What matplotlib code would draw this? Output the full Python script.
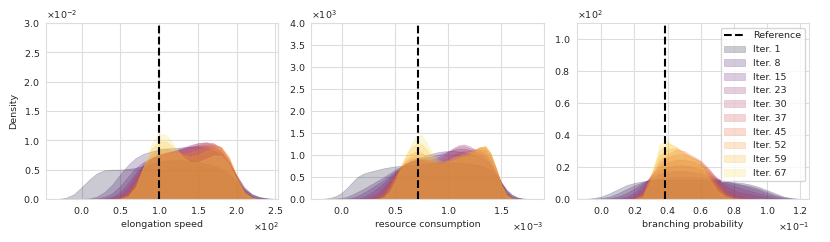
import numpy as np
import matplotlib
matplotlib.use("Agg")
import matplotlib.pyplot as plt
import seaborn as sns
from matplotlib.ticker import ScalarFormatter, MultipleLocator

sns.set_style("whitegrid")
plt.rcParams['font.family'] = ['DejaVu Sans']

FS = 6.8

iterations = [1, 8, 15, 23, 30, 37, 45, 52, 59, 67]
xlabels = ["elongation speed", "resource consumption", "branching probability"]
reference_values = [100.0, 0.719e-3, 0.0387]

# ---------------- panel 1: elongation speed (x in units, density x1e-2)
speed_x = [-30, -20, -10, 0, 10, 20, 30, 40, 50, 60, 70, 80, 90, 100, 110, 120, 130,
           140, 150, 160, 170, 180, 190, 200, 210, 220, 230, 240, 250]
speed_density = [
    [0, 0.02, 0.08, 0.2, 0.33, 0.44, 0.49, 0.5, 0.5, 0.51, 0.53, 0.56, 0.6, 0.63, 0.65, 0.66, 0.66, 0.65, 0.63, 0.6, 0.57, 0.52, 0.43, 0.3, 0.17, 0.08, 0.03, 0.01, 0],
    [0, 0, 0, 0, 0.01, 0.04, 0.12, 0.25, 0.42, 0.58, 0.7, 0.77, 0.81, 0.84, 0.86, 0.87, 0.88, 0.89, 0.89, 0.87, 0.83, 0.75, 0.6, 0.4, 0.2, 0.08, 0.03, 0.01, 0],
    [0, 0, 0, 0, 0, 0.01, 0.04, 0.1, 0.22, 0.38, 0.53, 0.63, 0.7, 0.75, 0.79, 0.83, 0.86, 0.89, 0.91, 0.91, 0.88, 0.8, 0.63, 0.4, 0.18, 0.06, 0.02, 0, 0],
    [0, 0, 0, 0, 0, 0, 0.01, 0.04, 0.12, 0.27, 0.45, 0.6, 0.69, 0.74, 0.78, 0.82, 0.87, 0.92, 0.95, 0.96, 0.92, 0.82, 0.63, 0.38, 0.15, 0.04, 0.01, 0, 0],
    [0, 0, 0, 0, 0, 0, 0, 0.02, 0.07, 0.2, 0.4, 0.58, 0.68, 0.74, 0.78, 0.81, 0.85, 0.9, 0.95, 0.97, 0.95, 0.86, 0.66, 0.38, 0.14, 0.03, 0, 0, 0],
    [0, 0, 0, 0, 0, 0, 0, 0.01, 0.04, 0.14, 0.35, 0.56, 0.68, 0.75, 0.78, 0.8, 0.83, 0.87, 0.92, 0.95, 0.95, 0.88, 0.68, 0.38, 0.13, 0.03, 0, 0, 0],
    [0, 0, 0, 0, 0, 0, 0, 0, 0.02, 0.1, 0.3, 0.55, 0.7, 0.78, 0.8, 0.79, 0.8, 0.84, 0.88, 0.92, 0.93, 0.88, 0.7, 0.38, 0.12, 0.02, 0, 0, 0],
    [0, 0, 0, 0, 0, 0, 0, 0, 0.01, 0.07, 0.26, 0.55, 0.76, 0.86, 0.86, 0.8, 0.77, 0.79, 0.84, 0.89, 0.92, 0.89, 0.72, 0.4, 0.12, 0.02, 0, 0, 0],
    [0, 0, 0, 0, 0, 0, 0, 0, 0.01, 0.05, 0.22, 0.55, 0.85, 0.98, 0.97, 0.86, 0.76, 0.72, 0.75, 0.82, 0.87, 0.85, 0.7, 0.4, 0.12, 0.02, 0, 0, 0],
    [0, 0, 0, 0, 0, 0, 0, 0, 0, 0.04, 0.2, 0.55, 0.93, 1.12, 1.08, 0.9, 0.72, 0.63, 0.63, 0.68, 0.74, 0.74, 0.6, 0.33, 0.1, 0.02, 0, 0, 0],
]

# ---------------- panel 2: resource consumption (x in 1e-3, density x1e3)
resource_x = [-0.2, -0.15, -0.1, -0.05, 0.0, 0.05, 0.1, 0.15, 0.2, 0.25, 0.3, 0.35, 0.4, 0.45,
              0.5, 0.55, 0.6, 0.65, 0.7, 0.75, 0.8, 0.85, 0.9, 0.95, 1.0, 1.05, 1.1, 1.15,
              1.2, 1.25, 1.3, 1.35, 1.4, 1.45, 1.5, 1.55, 1.6, 1.65, 1.7, 1.75, 1.8]
resource_density = [
    [0, 0.01, 0.03, 0.07, 0.14, 0.25, 0.38, 0.5, 0.57, 0.61, 0.64, 0.67, 0.7, 0.72, 0.74, 0.75, 0.76, 0.77, 0.78, 0.79, 0.8, 0.81, 0.82, 0.83, 0.83, 0.83, 0.82, 0.81, 0.8, 0.78, 0.76, 0.72, 0.65, 0.53, 0.37, 0.21, 0.1, 0.04, 0.01, 0, 0],
    [0, 0, 0, 0.01, 0.02, 0.05, 0.1, 0.16, 0.22, 0.29, 0.36, 0.43, 0.5, 0.58, 0.66, 0.73, 0.8, 0.86, 0.91, 0.95, 0.99, 1.03, 1.06, 1.08, 1.09, 1.09, 1.08, 1.06, 1.03, 1.0, 0.95, 0.88, 0.76, 0.58, 0.38, 0.2, 0.09, 0.03, 0.01, 0, 0],
    [0, 0, 0, 0, 0, 0.01, 0.03, 0.07, 0.13, 0.2, 0.28, 0.36, 0.44, 0.53, 0.62, 0.7, 0.78, 0.84, 0.88, 0.91, 0.94, 0.97, 1.0, 1.04, 1.08, 1.12, 1.14, 1.14, 1.12, 1.08, 1.02, 0.95, 0.82, 0.6, 0.36, 0.17, 0.06, 0.02, 0, 0, 0],
    [0, 0, 0, 0, 0, 0, 0.01, 0.02, 0.04, 0.1, 0.18, 0.27, 0.37, 0.48, 0.6, 0.7, 0.78, 0.84, 0.87, 0.88, 0.88, 0.9, 0.94, 1.0, 1.08, 1.16, 1.22, 1.24, 1.2, 1.13, 1.08, 1.02, 0.88, 0.62, 0.34, 0.14, 0.04, 0.01, 0, 0, 0],
    [0, 0, 0, 0, 0, 0, 0, 0.01, 0.02, 0.03, 0.08, 0.16, 0.28, 0.42, 0.57, 0.7, 0.8, 0.86, 0.88, 0.87, 0.85, 0.85, 0.88, 0.95, 1.04, 1.13, 1.19, 1.2, 1.16, 1.12, 1.12, 1.1, 0.95, 0.66, 0.34, 0.12, 0.03, 0, 0, 0, 0],
    [0, 0, 0, 0, 0, 0, 0, 0, 0, 0.01, 0.03, 0.1, 0.22, 0.38, 0.55, 0.7, 0.82, 0.9, 0.92, 0.9, 0.85, 0.82, 0.83, 0.88, 0.95, 1.02, 1.07, 1.09, 1.1, 1.12, 1.16, 1.15, 1.0, 0.7, 0.35, 0.12, 0.03, 0, 0, 0, 0],
    [0, 0, 0, 0, 0, 0, 0, 0, 0, 0, 0.01, 0.05, 0.15, 0.32, 0.52, 0.7, 0.85, 0.95, 0.98, 0.95, 0.88, 0.82, 0.8, 0.82, 0.87, 0.93, 0.98, 1.02, 1.06, 1.12, 1.18, 1.18, 1.02, 0.7, 0.35, 0.11, 0.02, 0, 0, 0, 0],
    [0, 0, 0, 0, 0, 0, 0, 0, 0, 0, 0, 0.02, 0.1, 0.28, 0.5, 0.72, 0.9, 1.03, 1.08, 1.05, 0.96, 0.86, 0.8, 0.8, 0.84, 0.9, 0.95, 0.98, 1.02, 1.1, 1.18, 1.2, 1.04, 0.7, 0.34, 0.1, 0.02, 0, 0, 0, 0],
    [0, 0, 0, 0, 0, 0, 0, 0, 0, 0, 0, 0.01, 0.06, 0.22, 0.45, 0.72, 0.98, 1.16, 1.25, 1.24, 1.12, 0.96, 0.85, 0.82, 0.84, 0.88, 0.92, 0.96, 1.0, 1.08, 1.16, 1.2, 1.05, 0.7, 0.33, 0.1, 0.02, 0, 0, 0, 0],
    [0, 0, 0, 0, 0, 0, 0, 0, 0, 0, 0, 0, 0.03, 0.16, 0.38, 0.66, 0.95, 1.22, 1.42, 1.45, 1.28, 1.05, 0.9, 0.85, 0.88, 0.94, 0.98, 1.02, 1.06, 1.12, 1.18, 1.2, 1.02, 0.66, 0.3, 0.08, 0.01, 0, 0, 0, 0],
]

# ---------------- panel 3: branching probability (x in 1e-1, density x1e2)
branch_x = [-0.15, -0.1, -0.05, 0.0, 0.05, 0.1, 0.15, 0.2, 0.25, 0.3, 0.35, 0.4, 0.45, 0.5,
            0.55, 0.6, 0.65, 0.7, 0.75, 0.8, 0.85, 0.9, 0.95, 1.0, 1.05, 1.1, 1.15, 1.2, 1.25]
branch_density = [
    [0, 0, 0.005, 0.015, 0.035, 0.06, 0.085, 0.1, 0.11, 0.115, 0.12, 0.12, 0.12, 0.12, 0.12, 0.12, 0.12, 0.115, 0.11, 0.105, 0.1, 0.09, 0.075, 0.055, 0.035, 0.015, 0.005, 0, 0],
    [0, 0, 0, 0.005, 0.015, 0.035, 0.06, 0.085, 0.105, 0.12, 0.13, 0.135, 0.14, 0.14, 0.14, 0.135, 0.13, 0.12, 0.11, 0.1, 0.09, 0.08, 0.065, 0.045, 0.025, 0.01, 0.003, 0, 0],
    [0, 0, 0, 0, 0.005, 0.015, 0.035, 0.065, 0.1, 0.13, 0.155, 0.17, 0.175, 0.175, 0.17, 0.16, 0.145, 0.125, 0.11, 0.095, 0.085, 0.07, 0.055, 0.035, 0.018, 0.006, 0, 0, 0],
    [0, 0, 0, 0, 0, 0.005, 0.015, 0.04, 0.09, 0.14, 0.18, 0.2, 0.21, 0.21, 0.2, 0.185, 0.16, 0.13, 0.1, 0.08, 0.065, 0.05, 0.035, 0.02, 0.008, 0, 0, 0, 0],
    [0, 0, 0, 0, 0, 0, 0.005, 0.02, 0.07, 0.15, 0.2, 0.23, 0.245, 0.245, 0.235, 0.215, 0.18, 0.13, 0.085, 0.055, 0.04, 0.03, 0.018, 0.008, 0, 0, 0, 0, 0],
    [0, 0, 0, 0, 0, 0, 0, 0.01, 0.05, 0.14, 0.22, 0.26, 0.28, 0.28, 0.26, 0.235, 0.19, 0.12, 0.06, 0.03, 0.015, 0.006, 0, 0, 0, 0, 0, 0, 0],
    [0, 0, 0, 0, 0, 0, 0, 0.005, 0.035, 0.14, 0.24, 0.28, 0.31, 0.3, 0.27, 0.24, 0.18, 0.1, 0.04, 0.012, 0.003, 0, 0, 0, 0, 0, 0, 0, 0],
    [0, 0, 0, 0, 0, 0, 0, 0, 0.03, 0.15, 0.27, 0.31, 0.32, 0.29, 0.26, 0.23, 0.17, 0.09, 0.03, 0.008, 0, 0, 0, 0, 0, 0, 0, 0, 0],
    [0, 0, 0, 0, 0, 0, 0, 0, 0.02, 0.15, 0.3, 0.35, 0.33, 0.28, 0.25, 0.22, 0.15, 0.07, 0.02, 0.004, 0, 0, 0, 0, 0, 0, 0, 0, 0],
    [0, 0, 0, 0, 0, 0, 0, 0, 0.01, 0.12, 0.34, 0.37, 0.3, 0.27, 0.26, 0.21, 0.13, 0.05, 0.012, 0, 0, 0, 0, 0, 0, 0, 0, 0, 0],
]

panels = [
    (speed_x, 1.0, speed_density, 1e-2),
    (resource_x, 1e-3, resource_density, 1e3),
    (branch_x, 1e-1, branch_density, 1e2),
]
xlims = [(-46, 254), (-0.284e-3, 1.9e-3), (-0.01475, 0.1255)]
ylims = [(0, 0.03), (0, 4000), (0, 110)]
xsteps = [50, 0.5e-3, 0.02]
ysteps = [0.005, 500, 20]

colors = sns.color_palette("inferno", len(iterations))

fig = plt.figure(figsize=(8.3, 2.42), dpi=100)
fig.subplots_adjust(left=0.0554, right=0.975, bottom=0.178, top=0.905, wspace=0.142)
axes = [fig.add_subplot(1, 3, i + 1) for i in range(3)]

for k, ax in enumerate(axes):
    xs, xscale, dens, yscale = panels[k]
    x = np.array(xs) * xscale
    for it, row, c in zip(iterations, dens, colors):
        y = np.array(row) * yscale
        ax.fill_between(x, 0, y, color=c, alpha=0.22, linewidth=0.5,
                        edgecolor=(*c, 0.25), label=f"Iter. {it}")
    ax.axvline(reference_values[k], color="black", linestyle="--", linewidth=1.5,
               label="Reference", zorder=5)
    ax.set_xlim(*xlims[k])
    ax.set_ylim(*ylims[k])
    ax.xaxis.set_major_locator(MultipleLocator(xsteps[k]))
    ax.yaxis.set_major_locator(MultipleLocator(ysteps[k]))
    for axis in (ax.xaxis, ax.yaxis):
        fmt = ScalarFormatter(useMathText=True)
        fmt.set_powerlimits((0, 0))
        axis.set_major_formatter(fmt)
    ax.tick_params(axis="x", labelsize=FS, length=0, pad=4.5)
    ax.tick_params(axis="y", labelsize=FS, length=0, pad=4.5)
    ax.xaxis.get_offset_text().set_fontsize(FS)
    ax.yaxis.get_offset_text().set_fontsize(FS)
    ax.set_xlabel(xlabels[k], fontsize=FS, labelpad=3)
    ax.set_ylabel("Density" if k == 0 else "", fontsize=FS, labelpad=4)
    ax.grid(True, color="#dddddd", linewidth=0.8)
    for s in ax.spines.values():
        s.set_color("#dddddd")

handles, labels = axes[2].get_legend_handles_labels()
order = [len(handles) - 1] + list(range(len(handles) - 1))
axes[2].legend([handles[i] for i in order], [labels[i] for i in order],
               loc="upper right", fontsize=FS, frameon=True, handlelength=2.2,
               labelspacing=0.5, borderpad=0.4)

fig.savefig("out.png", dpi=100)
